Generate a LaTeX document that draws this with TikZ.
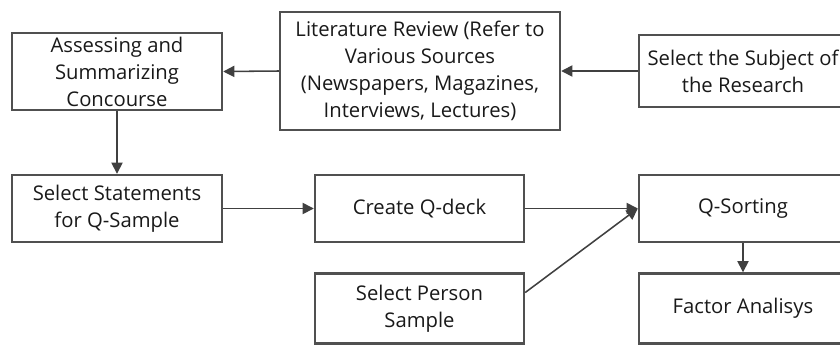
\documentclass[tikz,border=0pt]{standalone}
\usepackage{fontspec}
\setmainfont{Open Sans}
\usetikzlibrary{arrows.meta, calc}

\definecolor{boxGrey}{HTML}{505050}
\definecolor{lineGrey}{HTML}{404040}

\begin{document}
\begin{tikzpicture}[x=0.025cm, y=-0.025cm, >={Triangle[length=2.8mm, width=2.8mm]},
  every node/.style={font=\fontsize{14.4}{19.2}\selectfont, text=black!90},
  stepbox/.style={draw=boxGrey, line width=1.7pt, align=center, inner sep=1pt},
  flow/.style={->, draw=lineGrey, line width=1.1pt}]
  \useasboundingbox (0,0) rectangle (840,344);
  \clip (0,0) rectangle (840,344);
  % top row
  \node[stepbox, minimum width=5.25cm, minimum height=1.925cm] (assessing) at (117,71.5) {Assessing and\\Summarizing\\Concourse};
  \node[stepbox, minimum width=7cm, minimum height=2.95cm] (litReview) at (420,71) {Literature Review (Refer to\\Various Sources\\(Newspapers, Magazines,\\Interviews, Lectures)};
  \node[stepbox, minimum width=5.2cm, minimum height=1.8cm] (selectSubject) at (743,71) {Select the Subject of\\the Research};
  % middle row
  \node[stepbox, minimum width=5.25cm, minimum height=1.675cm] (selectStatements) at (117,208.5) {Select Statements\\for Q-Sample};
  \node[stepbox, minimum width=5.225cm, minimum height=1.675cm] (createDeck) at (419.5,208.5) {Create Q-deck};
  \node[stepbox, minimum width=5.2cm, minimum height=1.675cm] (qSorting) at (743,208.5) {Q-Sorting};
  % bottom row
  \node[stepbox, minimum width=5.225cm, minimum height=1.75cm] (selectPerson) at (419.5,308.5) {Select Person\\Sample};
  \node[stepbox, minimum width=5.2cm, minimum height=1.75cm] (factorAnalysis) at (743,308.5) {Factor Analisys};
  % connectors
  \draw[flow] (selectSubject.west) -- (litReview.east);
  \draw[flow] (litReview.west) -- (assessing.east);
  \draw[flow] (assessing.south) -- (selectStatements.north);
  \draw[flow] (selectStatements.east) -- (createDeck.west);
  \draw[flow] (createDeck.east) -- (qSorting.west);
  \draw[flow] ([yshift=0.4cm]selectPerson.east) -- (qSorting.west);
  \draw[flow] (qSorting.south) -- (factorAnalysis.north);
\end{tikzpicture}
\end{document}
